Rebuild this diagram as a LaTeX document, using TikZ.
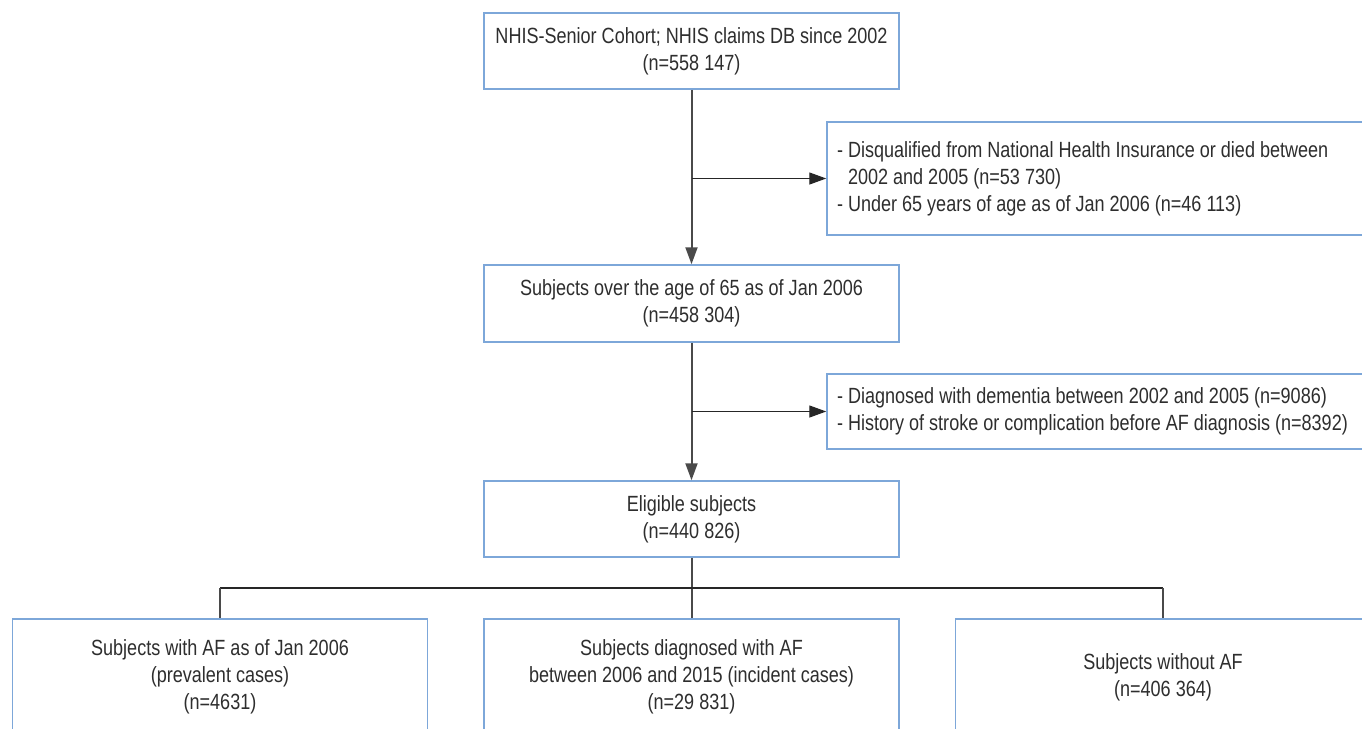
\documentclass[tikz,border=0pt]{standalone}
\usepackage{fontspec}
\setmainfont{Liberation Sans}[FakeStretch=0.82]
\usetikzlibrary{arrows.meta}
\definecolor{boxblue}{HTML}{7DA7D9}
\definecolor{txtgrey}{HTML}{2E2E2E}
\definecolor{linegrey}{HTML}{4A4A4A}
\tikzset{
  fbox/.style={draw=boxblue, line width=0.75pt, fill=white, text=txtgrey,
    align=center, inner sep=0pt, minimum width=207.5pt,
    font=\fontsize{11pt}{13.5pt}\selectfont},
  sidebox/.style={draw=boxblue, line width=0.75pt, fill=white, text=txtgrey,
    align=flush left, inner xsep=5pt, inner ysep=0pt, text width=291.5pt,
    font=\fontsize{11pt}{13.5pt}\selectfont},
  vline/.style={draw=linegrey, line width=1pt},
  hline/.style={draw=black!85, line width=0.65pt},
  tip/.style={-{Triangle[length=8.5pt,width=6pt]}}
}
\begin{document}
\begin{tikzpicture}[x=0.5pt,y=-0.5pt]
\useasboundingbox (0,0) rectangle (1362,729);
\clip (0,0) rectangle (1362,729);
\fill[white] (0,0) rectangle (1362,729);

\node[fbox, minimum height=38pt] (b1) at (691.5,51)
  {NHIS-Senior Cohort; NHIS claims DB since 2002\\(n=558 147)};
\node[fbox, minimum height=38.5pt] (b2) at (691.5,303.5)
  {Subjects over the age of 65 as of Jan 2006\\(n=458 304)};
\node[fbox, minimum height=38pt] (b3) at (691.5,519)
  {Eligible subjects\\(n=440 826)};

\node[sidebox, minimum height=56.5pt] (r1) at (1128.5,178.5)
  {- Disqualified from National Health Insurance or died between\\
   \hphantom{- }2002 and 2005 (n=53 730)\\
   - Under 65 years of age as of Jan 2006 (n=46 113)};
\node[sidebox, minimum height=37.5pt] (r2) at (1128.5,411.5)
  {- Diagnosed with dementia between 2002 and 2005 (n=9086)\\
   - History of stroke or complication before AF diagnosis (n=8392)};

\node[fbox, minimum height=58pt] (ba) at (220,677)
  {Subjects with AF as of Jan 2006\\(prevalent cases)\\(n=4631)};
\node[fbox, minimum height=58pt] (bb) at (691.5,677)
  {Subjects diagnosed with AF\\between 2006 and 2015 (incident cases)\\(n=29 831)};
\node[fbox, minimum height=58pt] (bc) at (1163,677)
  {Subjects without AF\\(n=406 364)};

% main flow
\draw[vline, tip] (b1.south) -- (b2.north);
\draw[vline, tip] (b2.south) -- (b3.north);
\draw[hline, tip] (b1.south |- r1.west) -- (r1.west);
\draw[hline, tip] (b2.south |- r2.west) -- (r2.west);

% split
\coordinate (hj) at (691.5,588);
\draw[vline] (b3.south) -- (bb.north);
\draw[hline] (ba.north |- hj) -- (bc.north |- hj);
\draw[vline] (ba.north |- hj) -- (ba.north);
\draw[vline] (bc.north |- hj) -- (bc.north);
\end{tikzpicture}
\end{document}
